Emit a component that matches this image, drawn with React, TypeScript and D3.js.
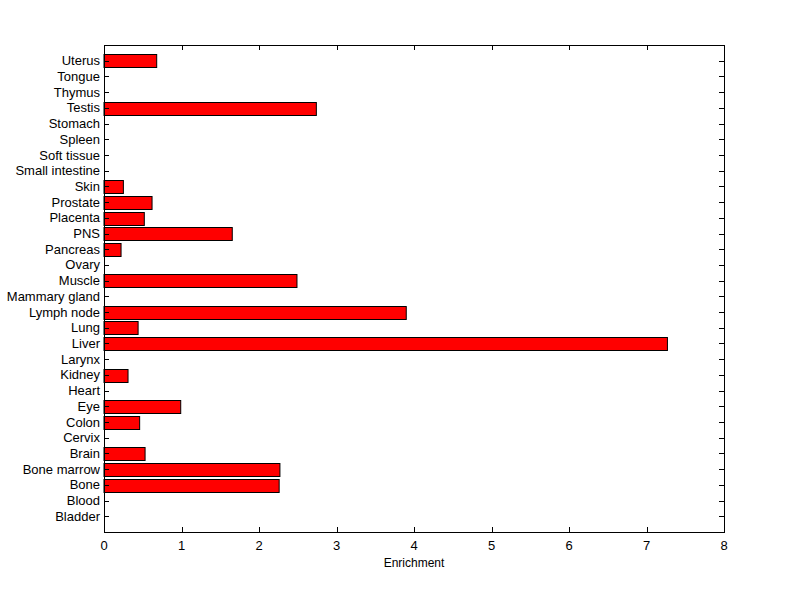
import React from "react";
import * as d3 from "d3";

const categories = ["Bladder","Blood","Bone","Bone marrow","Brain","Cervix","Colon","Eye","Heart","Kidney","Larynx","Liver","Lung","Lymph node","Mammary gland","Muscle","Ovary","Pancreas","PNS","Placenta","Prostate","Skin","Small intestine","Soft tissue","Spleen","Stomach","Testis","Thymus","Tongue","Uterus"];
const values = [0,0,2.26,2.27,0.53,0,0.46,0.99,0,0.31,0,7.27,0.44,3.9,0,2.49,0,0.22,1.655,0.52,0.62,0.25,0,0,0,0,2.74,0,0,0.68];
const xTicks = [0,1,2,3,4,5,6,7,8];

const W = 800, H = 599;
const L = 104, R = 724, T = 45, B = 532;

export default function App() {
  const x = d3.scaleLinear().domain([0, 8]).range([L, R]);
  const step = (B - T) / (categories.length + 1);
  const y = (i: number) => B - step * (i + 1);
  const bh = step * 0.8;
  const font = "Liberation Sans, Arial, sans-serif";
  return (
    <svg width={W} height={H} style={{ position: "absolute", left: 0, top: 0, background: "#fff" }}>
      <rect x={0} y={0} width={W} height={H} fill="#fff" />
      {categories.map((c, i) => {
        const v = values[i];
        return (
          <g key={c}>
            {v > 0 && (
              <rect x={x(0)} y={Math.round(y(i) - bh / 2) + 0.5} width={x(v) - x(0)} height={Math.round(bh)} fill="#ff0000" stroke="#000" strokeWidth={1} />
            )}
            <line x1={L} x2={L + 5} y1={Math.round(y(i)) + 0.5} y2={Math.round(y(i)) + 0.5} stroke="#000" />
            <line x1={R} x2={R - 5} y1={Math.round(y(i)) + 0.5} y2={Math.round(y(i)) + 0.5} stroke="#000" />
            <text x={L - 4} y={y(i)} dy="0.35em" textAnchor="end" fontFamily={font} fontSize={13}>{c}</text>
          </g>
        );
      })}
      {xTicks.map((t) => (
        <g key={t}>
          <line x1={Math.round(x(t)) + 0.5} x2={Math.round(x(t)) + 0.5} y1={B} y2={B - 5} stroke="#000" />
          <line x1={Math.round(x(t)) + 0.5} x2={Math.round(x(t)) + 0.5} y1={T} y2={T + 5} stroke="#000" />
          <text x={x(t)} y={B + 18} textAnchor="middle" fontFamily={font} fontSize={13}>{t}</text>
        </g>
      ))}
      <rect x={L + 0.5} y={T + 0.5} width={R - L} height={B - T} fill="none" stroke="#000" strokeWidth={1} />
      <text x={(L + R) / 2} y={567} textAnchor="middle" fontFamily={font} fontSize={12}>Enrichment</text>
    </svg>
  );
}
